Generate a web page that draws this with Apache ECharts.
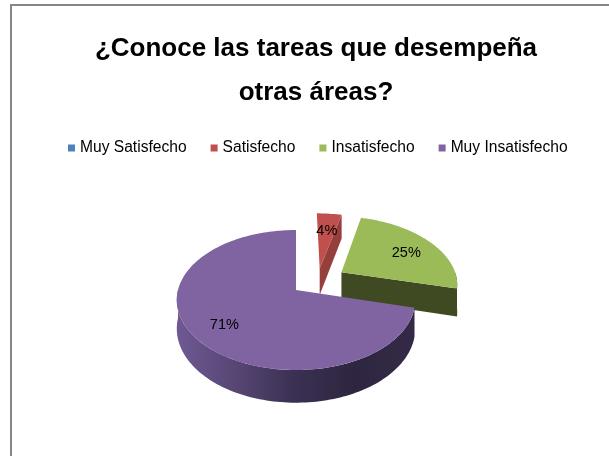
<!DOCTYPE html>
<html>
<head>
<meta charset="utf-8">
<script src="https://cdn.jsdelivr.net/npm/echarts@6/dist/echarts.min.js"></script>
<style>
  html, body { margin: 0; padding: 0; background: #ffffff; }
  #chart { width: 609px; height: 456px; }
</style>
</head>
<body>
<div id="chart"></div>
<script>
// ---- data ----
const titleText = '¿Conoce las tareas que desempeña\notras áreas?';
const categories = ['Muy Satisfecho', 'Satisfecho', 'Insatisfecho', 'Muy Insatisfecho'];
const percentages = [0, 4, 25, 71];

// ---- look of each slice: top face, cut faces, outer rim (left to right), explosion (radius units) ----
const sliceStyle = {
  'Muy Satisfecho':   { top: '#4F81BD', cut: '#2F4D71', rim: ['#3F6797', '#243B57'], explode: [0, 0] },
  'Satisfecho':       { top: '#C0504D', cut: '#963E3B', rim: ['#9A403E', '#6E2E2C'], explode: [0.21, 0.33] },
  'Insatisfecho':     { top: '#9BBB59', cut: '#3F4A23', rim: ['#46532A', '#39441F'], explode: [0.40, 0.27] },
  'Muy Insatisfecho': { top: '#8064A2', cut: '#4B3B60', rim: ['#6E5993', '#574674', '#3A3052', '#2E2640', '#342A47'], explode: [0, 0] }
};

// ---- 3D pie layout ----
const pie = {
  center: [296, 290],   // screen position of the pie centre (top face)
  radius: [118, 68.6],  // horizontal / depth-wise radius on screen
  perspective: 0.143,   // how much the far side shrinks
  thickness: 28,        // height of the rim
  labelRadius: 0.72,
  startAngle: 0         // clockwise from 12 o'clock
};

const total = percentages.reduce((a, b) => a + b, 0);
const cumulative = [];
percentages.reduce((acc, v, i) => { cumulative[i] = acc; return acc + v; }, 0);

// u: to the right, w: towards the back (radius units), h: 0 top face, 1 bottom
function project(u, w, h) {
  const s = 1 / (1 + pie.perspective * w);
  return [
    pie.center[0] + pie.radius[0] * u * s,
    pie.center[1] - pie.radius[1] * w * s + pie.thickness * h * s
  ];
}

function rimPoint(angleDeg, off, h) {
  const a = angleDeg * Math.PI / 180;
  return project(off[0] + Math.sin(a), off[1] + Math.cos(a), h);
}

function arc(a0, a1, off, h) {
  const n = Math.max(2, Math.ceil((a1 - a0) / 1.5));
  const pts = [];
  for (let k = 0; k <= n; k++) pts.push(rimPoint(a0 + (a1 - a0) * k / n, off, h));
  return pts;
}

function renderSlice(idx) {
  return function (params, api) {
    const value = api.value(0);
    if (!(value > 0)) return null;
    const name = categories[idx];
    const st = sliceStyle[name];
    const off = st.explode;
    const a0 = pie.startAngle + cumulative[idx] / total * 360;
    const a1 = pie.startAngle + (cumulative[idx] + value) / total * 360;
    const apexTop = project(off[0], off[1], 0);
    const apexBot = project(off[0], off[1], 1);
    const children = [];

    // outer rim: only the front half (90°..270°) faces the viewer
    const r0 = Math.max(a0, 90), r1 = Math.min(a1, 270);
    if (r1 > r0) {
      const topArc = arc(r0, r1, off, 0);
      const botArc = arc(r0, r1, off, 1).reverse();
      const stops = st.rim.map((c, i) => ({ offset: i / (st.rim.length - 1), color: c }));
      children.push({ type: 'polygon', shape: { points: topArc.concat(botArc) },
        style: { fill: new echarts.graphic.LinearGradient(0, 0, 1, 0, stops) } });
    }

    // cut face at the start edge (visible when it turns towards the viewer)
    if (Math.sin(a0 * Math.PI / 180) < -1e-6) {
      children.push({ type: 'polygon', shape: { points: [apexTop, rimPoint(a0, off, 0), rimPoint(a0, off, 1), apexBot] },
        style: { fill: st.cut } });
    }
    // cut face at the end edge
    if (Math.sin(a1 * Math.PI / 180) > 1e-6) {
      children.push({ type: 'polygon', shape: { points: [apexTop, rimPoint(a1, off, 0), rimPoint(a1, off, 1), apexBot] },
        style: { fill: st.cut } });
    }

    // top face
    children.push({ type: 'polygon', shape: { points: [apexTop].concat(arc(a0, a1, off, 0)) },
      style: { fill: st.top } });

    // percentage label on the top face
    const mid = (a0 + a1) / 2 * Math.PI / 180;
    const lp = project(off[0] + pie.labelRadius * Math.sin(mid), off[1] + pie.labelRadius * Math.cos(mid), 0);
    children.push({ type: 'text', style: {
      text: value + '%', x: lp[0], y: lp[1] + 3, align: 'center', verticalAlign: 'middle',
      font: '14.5px "Liberation Sans", Arial, sans-serif', fill: '#000000' } });

    return { type: 'group', children: children };
  };
}

const series = categories.map((name, i) => ({
  type: 'custom',
  name: name,
  coordinateSystem: 'none',
  silent: true,
  animation: false,
  itemStyle: { color: sliceStyle[name].top },
  data: [[percentages[i]]],
  renderItem: renderSlice(i)
}));

const chart = echarts.init(document.getElementById('chart'), null, { renderer: 'canvas' });
chart.setOption({
  backgroundColor: '#ffffff',
  animation: false,
  graphic: [
    { type: 'rect', shape: { x: 11, y: 5, width: 700, height: 600 },
      style: { fill: 'none', stroke: '#868686', lineWidth: 2 }, silent: true },
    { type: 'text', x: 316, y: 27, silent: true,
      style: { text: titleText, align: 'center', verticalAlign: 'top', lineHeight: 44,
        font: 'bold 26px "Liberation Sans", Arial, sans-serif', fill: '#000000' } }
  ],
  legend: {
    data: categories,
    left: 68,
    top: 140,
    padding: 0,
    icon: 'rect',
    itemWidth: 7,
    itemHeight: 7,
    itemGap: 24,
    selectedMode: false,
    textStyle: { fontFamily: '"Liberation Sans", Arial, sans-serif', fontSize: 15.6, color: '#000000' }
  },
  series: series
});
</script>
</body>
</html>
